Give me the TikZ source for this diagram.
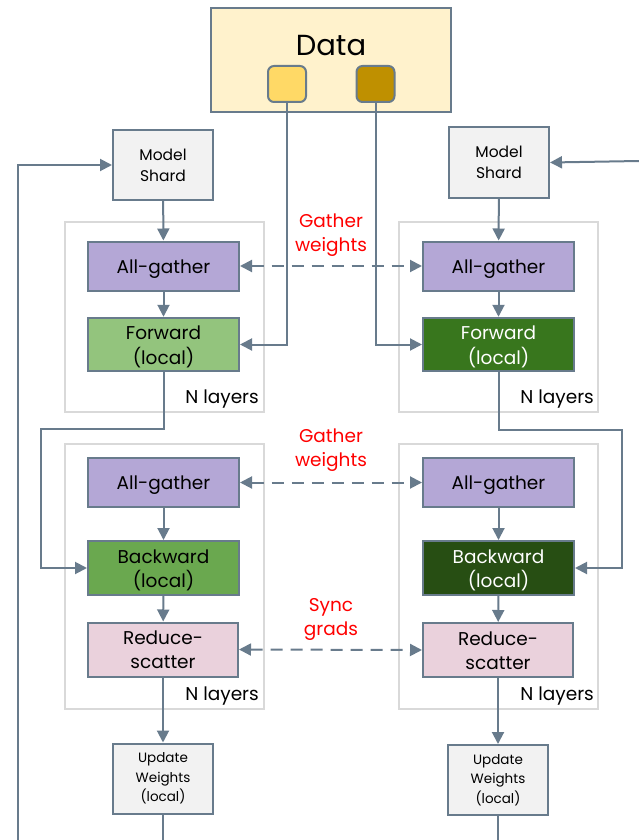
\documentclass[tikz,border=0pt]{standalone}
\usepackage{fontspec}
\setmainfont{Poppins}
\usetikzlibrary{arrows.meta}
\definecolor{edge}{HTML}{687B8C}
\definecolor{frame}{HTML}{D9D9D9}
\definecolor{shard}{HTML}{F2F2F2}
\definecolor{gath}{HTML}{B4A7D6}
\definecolor{fwdA}{HTML}{93C47D}
\definecolor{fwdB}{HTML}{38761D}
\definecolor{bwdA}{HTML}{6AA84F}
\definecolor{bwdB}{HTML}{274E13}
\definecolor{rsfill}{HTML}{EAD1DC}
\definecolor{datafill}{HTML}{FFF2CC}
\definecolor{chipA}{HTML}{FFD966}
\definecolor{chipB}{HTML}{BF9000}
\definecolor{note}{HTML}{FF0000}
% two centred lines, with extra room on top so they sit a little low
\newcommand{\twolines}[2]{\raisebox{0pt}[\dimexpr\height+5pt\relax][\depth]{\begin{tabular}{@{}c@{}}#1\\#2\end{tabular}}}
\tikzset{
  box/.style={draw=edge, line width=2pt, align=center, inner sep=0pt},
  opbox/.style={box, minimum width=151pt, minimum height=49pt,
    font=\fontsize{18.5}{24}\selectfont},
  onebox/.style={opbox, execute at begin node={\rule{0pt}{19.5pt}}},
  tallbox/.style={opbox, minimum height=54pt},
  shardbox/.style={box, fill=shard, minimum width=100pt, minimum height=70pt,
    font=\fontsize{15.5}{21}\selectfont},
  updbox/.style={box, fill=shard, minimum width=100pt, minimum height=70pt,
    font=\fontsize{13.5}{19.5}\selectfont},
  layerbox/.style={draw=frame, line width=2pt, minimum width=199pt},
  chip/.style={draw=edge, line width=2pt, rounded corners=6pt,
    minimum width=38pt, minimum height=36pt},
  layertag/.style={font=\fontsize{18.5}{20}\selectfont, anchor=south east,
    inner sep=0pt},
  rednote/.style={text=note, align=center, font=\fontsize{18.5}{24}\selectfont},
  arr/.style={draw=edge, line width=2pt, -{Triangle[length=12pt,width=12pt]}},
  darr/.style={draw=edge, line width=2pt, dash pattern=on 12pt off 8pt,
    {Triangle[length=12pt,width=12pt]}-{Triangle[length=12pt,width=12pt]}},
  plain/.style={draw=edge, line width=2pt},
}
\begin{document}
\begin{tikzpicture}[x=1pt, y=-1pt]
\useasboundingbox (0,0) rectangle (639,840);

% data source with its two chips
\node[box, fill=datafill, minimum width=240pt, minimum height=104pt] (data) at (331,60) {};
\node[font=\fontsize{29}{32}\selectfont] (datalbl) at (331,46) {Data};
\node[chip, fill=chipA] (dy) at (287,84) {};
\node[chip, fill=chipB] (dg) at (375.5,84) {};

% layer group frames
\node[layerbox, minimum height=190pt] (lf1) at (164.5,317) {};
\node[layerbox, minimum height=190pt] (rf1) at (498.5,317) {};
\node[layerbox, minimum height=265pt] (lf2) at (164.5,576.5) {};
\node[layerbox, minimum height=265pt] (rf2) at (498.5,576.5) {};
\node[layertag] (lt1) at (259,408) {N layers};
\node[layertag] (rt1) at (594,408) {N layers};
\node[layertag] (lt2) at (259,705) {N layers};
\node[layertag] (rt2) at (594,705) {N layers};

% model shards
\node[shardbox] (lms) at (163,165) {Model\\Shard};
\node[shardbox] (rms) at (499,162.5) {Model\\Shard};

% forward pass
\node[onebox, fill=gath] (lag1) at (163.5,266) {All-gather};
\node[onebox, fill=gath] (rag1) at (498.5,266) {All-gather};
\node[opbox, fill=fwdA] (lfw) at (163.5,344.5) {\twolines{Forward}{(local)}};
\node[opbox, fill=fwdB, text=white] (rfw) at (498.5,344.5) {\twolines{Forward}{(local)}};

% backward pass
\node[onebox, fill=gath] (lag2) at (163.5,482.5) {All-gather};
\node[onebox, fill=gath] (rag2) at (498.5,482.5) {All-gather};
\node[tallbox, fill=bwdA] (lbw) at (163.5,568) {\twolines{Backward}{(local)}};
\node[tallbox, fill=bwdB, text=white] (rbw) at (498.5,568) {\twolines{Backward}{(local)}};
\node[tallbox, fill=rsfill, minimum width=150pt] (lrs) at (163,649.5) {\twolines{Reduce-}{scatter}};
\node[tallbox, fill=rsfill, minimum width=150pt] (rrs) at (498,650) {\twolines{Reduce-}{scatter}};

% weight updates
\node[updbox] (luw) at (163,778.5) {Update\\Weights\\(local)};
\node[updbox] (ruw) at (498,780) {Update\\Weights\\(local)};

% communication notes
\node[rednote] (n1) at (331,235) {Gather\\weights};
\node[rednote] (n2) at (331,450) {Gather\\weights};
\node[rednote] (n3) at (331,619) {Sync\\grads};

% routing points
\coordinate (lin) at (18,840);
\coordinate (rin) at (639,161);
\coordinate (lk) at (41,429);
\coordinate (rk) at (622,430);
\coordinate (lout) at (163,840);
\coordinate (rout) at (498,840);

% connectors
\draw[arr] (lin) |- (lms.west);
\draw[arr] (rin) -- (rms.east);
\draw[arr] (lms) -- (lag1);
\draw[arr] (rms) -- (rag1);
\draw[arr] (lag1) -- (lfw);
\draw[arr] (rag1) -- (rfw);
\draw[arr] (dy.south) |- (lfw.east);
\draw[arr] (dg.south) |- (rfw.west);
\draw[darr] (lag1.east) -- (rag1.west);
\draw[arr] (lfw.south) |- (lk) |- (lbw.west);
\draw[arr] (rfw.south) |- (rk) |- (rbw.east);
\draw[darr] (lag2.east) -- (rag2.west);
\draw[arr] (lag2) -- (lbw);
\draw[arr] (rag2) -- (rbw);
\draw[arr] (lbw) -- (lrs);
\draw[arr] (rbw) -- (rrs);
\draw[darr] (lrs.east) -- (rrs.west);
\draw[arr] (lrs) -- (luw);
\draw[arr] (rrs) -- (ruw);
\draw[plain] (luw.south) -- (lout);
\draw[plain] (ruw.south) -- (rout);
\end{tikzpicture}
\end{document}
